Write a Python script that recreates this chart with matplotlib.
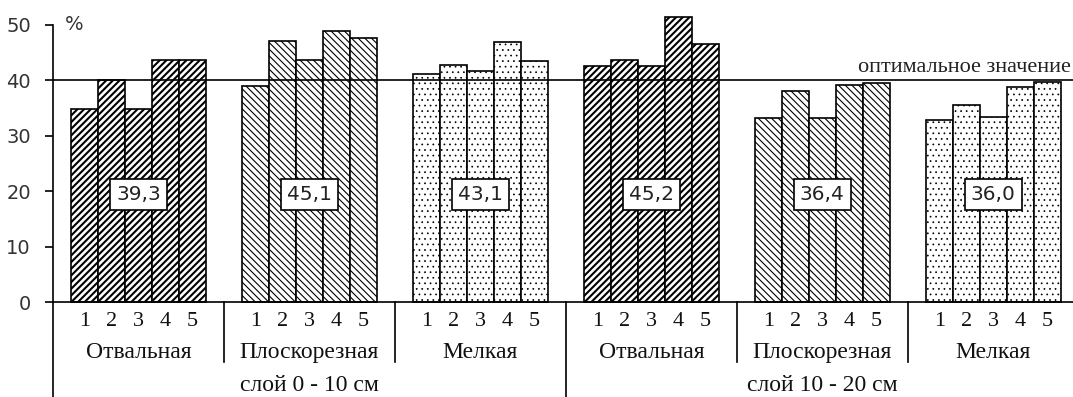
import numpy as np
import matplotlib.pyplot as plt
from matplotlib.transforms import blended_transform_factory

# --------------------------------------------------
# data
# --------------------------------------------------
layers = ["слой 0 - 10 см", "слой 10 - 20 см"]
methods = ["Отвальная", "Плоскорезная", "Мелкая"]
variants = ["1", "2", "3", "4", "5"]

otv_0_10 = [34.8, 40.0, 34.8, 43.6, 43.6]
plo_0_10 = [38.9, 47.1, 43.6, 48.8, 47.6]
mel_0_10 = [41.1, 42.8, 41.6, 46.8, 43.4]
otv_10_20 = [42.5, 43.7, 42.5, 51.4, 46.5]
plo_10_20 = [33.2, 38.0, 33.2, 39.1, 39.4]
mel_10_20 = [32.8, 35.6, 33.4, 38.8, 39.7]

group_values = [otv_0_10, plo_0_10, mel_0_10, otv_10_20, plo_10_20, mel_10_20]
group_means = ["39,3", "45,1", "43,1", "45,2", "36,4", "36,0"]

optimum = 40
optimum_label = "оптимальное значение"

# --------------------------------------------------
# figure
# --------------------------------------------------
fig = plt.figure(figsize=(10.73, 3.97), dpi=100)
ax = fig.add_axes([0.0494, 0.2385, 0.956, 0.6997])

serif = "Liberation Serif"
sans = "DejaVu Sans"

hatches = ["/////", "\\\\\\\\\\", "..."]
hatch_lw = [1.5, 0.8, 0.5]
bar_w = 0.158

for i, vals in enumerate(group_values):
    kind = i % 3
    x = i + 0.5 + (np.arange(5) - 2) * bar_w
    with plt.rc_context({"hatch.linewidth": hatch_lw[kind]}):
        ax.bar(x, vals, width=bar_w, color="white", edgecolor="black",
               linewidth=1.2, hatch=hatches[kind], zorder=2, clip_on=False)
    ax.text(i + 0.5, 19.4, group_means[i], ha="center", va="center",
            fontsize=14.5, family=sans, color="#222222", zorder=4,
            bbox=dict(boxstyle="square,pad=0.3", fc="white", ec="black", lw=1.2))

# optimum line, label kept inside the figure at its right edge
ax.axhline(optimum, color="black", lw=1.2, zorder=3)
ax.annotate(optimum_label, xy=(0.998, optimum + 0.5), ha="right", va="bottom",
            xycoords=("figure fraction", "data"),
            fontsize=16, family=serif, color="#222222")

# axes styling
ax.set_xlim(0, 6)
ax.set_ylim(0, 50)
for s in ["top", "right"]:
    ax.spines[s].set_visible(False)
ax.spines["left"].set_linewidth(1.2)
ax.spines["bottom"].set_linewidth(1.2)
ax.set_yticks(range(0, 51, 10))
ax.tick_params(axis="y", direction="out", length=6, width=1.2, pad=10,
               labelsize=14, labelcolor="#333333")
for lab in ax.get_yticklabels():
    lab.set_family(sans)

xt = [i + 0.5 + (j - 2) * bar_w for i in range(6) for j in range(5)]
ax.set_xticks(xt, variants * 6)
ax.tick_params(axis="x", length=0, pad=7, labelsize=16, labelcolor="#111111")
for lab in ax.get_xticklabels():
    lab.set_family(serif)

ax.text(0.012, 50, "%", ha="left", va="center", fontsize=14, family=sans,
        color="#333333", transform=blended_transform_factory(ax.transAxes, ax.transData))

# group labels and separators below the axis
tr = blended_transform_factory(ax.transData, ax.transAxes)
for i in range(6):
    ax.text(i + 0.5, -0.18, methods[i % 3], ha="center", va="center",
            fontsize=17, family=serif, color="#111111", transform=tr)
for k, name in enumerate(layers):
    ax.text(3 * k + 1.5, -0.3, name, ha="center", va="center",
            fontsize=17, family=serif, color="#111111", transform=tr)
for i in range(7):
    bottom = -0.4 if i % 3 == 0 else -0.215
    ax.plot([i, i], [0, bottom], color="black", lw=1.2, transform=tr, clip_on=False)

fig.savefig("out.png", dpi=100)
